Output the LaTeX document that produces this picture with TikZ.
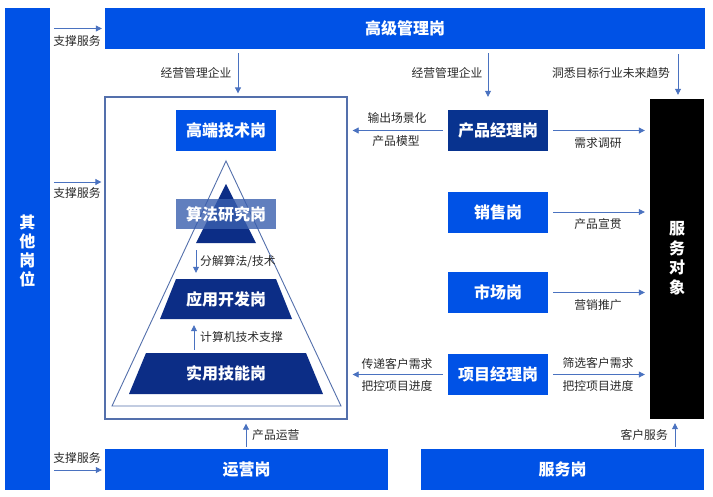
\documentclass[tikz,border=0pt]{standalone}
\usepackage{fontspec}
\setmainfont{Noto Sans CJK SC}
\usetikzlibrary{arrows.meta}
\definecolor{cblue}{HTML}{0052E6}
\definecolor{cnavy}{HTML}{0C2D86}
\definecolor{cpm}{HTML}{08338F}
\definecolor{cslate}{HTML}{3A5FAE}
\definecolor{carrow}{HTML}{4A72C0}
\definecolor{cframe}{HTML}{5470AC}
\definecolor{ctext}{HTML}{2A2A2A}
\tikzset{
 box/.style={fill=cblue, text=white, font=\fontsize{16}{18}\selectfont\bfseries, inner sep=0pt, minimum width=100pt, minimum height=41pt},
 lbl/.style={text=ctext, font=\fontsize{11.8}{13}\selectfont, inner sep=0pt},
 arr/.style={draw=carrow, line width=0.8pt, -{Triangle[length=6pt,width=6pt]}},
}
\begin{document}
\begin{tikzpicture}[x=1pt,y=-1pt]
\useasboundingbox[fill=white] (0,0) rectangle (713,496);
% big bars
\node[box, minimum width=45pt, minimum height=482pt] (other) at (27.5,249) {};
\node[text=white, font=\fontsize{16}{19}\selectfont\bfseries, align=center, inner sep=0pt] at (27.5,251) {其\\他\\岗\\位};
\node[box, minimum width=600pt, minimum height=41pt] (top) at (405,28.5) {高级管理岗};
\node[box, minimum width=283pt, minimum height=41pt] (yy) at (246.5,469.5) {运营岗};
\node[box, minimum width=283pt, minimum height=41pt] (fw) at (562.5,469.5) {服务岗};
\node[fill=black, minimum width=54pt, minimum height=320pt, inner sep=0pt] (svc) at (677,259) {};
\node[text=white, font=\fontsize{16}{19.5}\selectfont\bfseries, align=center, inner sep=0pt] at (677,258) {服\\务\\对\\象};
% frame
\node[draw=cframe, line width=1.3pt, minimum width=242pt, minimum height=322pt, inner sep=0pt] (frame) at (226,258) {};
\node[box] (gd) at (226,130.5) {高端技术岗};
% pyramid
\draw[draw=cframe, line width=0.9pt] (226,161) -- (341,406) -- (112,406) -- cycle;
\fill[cnavy] (226,184) -- (256,243) -- (196,243) -- cycle;
\coordinate (tri) at (226,243);
\fill[cnavy] (176,279) -- (276,279) -- (292,319) -- (160,319) -- cycle;
\fill[cnavy] (146,353) -- (306,353) -- (323,394) -- (129,394) -- cycle;
\node[box, fill=cslate, fill opacity=0.8, text opacity=1, minimum height=30pt] (sf) at (226,214) {算法研究岗};
\node[box, fill=none, minimum width=116pt, minimum height=40pt] (kf) at (226,299) {应用开发岗};
\node[box, fill=none, minimum width=160pt, minimum height=41pt] (jn) at (226,373.5) {实用技能岗};
\coordinate (a1) at (196,0);
\coordinate (a2) at (194,0);
\draw[arr] ([yshift=-7pt]tri -| a1) -- ([yshift=6pt]kf.north -| a1);
\node[lbl, anchor=west] at (200,262) {分解算法/技术};
\draw[arr] ([yshift=3pt]jn.north -| a2) -- ([yshift=-6pt]kf.south -| a2);
\node[lbl, anchor=west] at (200,337) {计算机技术支撑};
% right column
\node[box, fill=cpm] (pm) at (498,130.5) {产品经理岗};
\node[box] (xs) at (498,212) {销售岗};
\node[box] (sc) at (498,292.5) {市场岗};
\node[box] (xm) at (498,374.5) {项目经理岗};
% left support arrows
\coordinate (m1) at (0,182);
\coordinate (m2) at (0,470);
\draw[arr] ([xshift=4pt]other.east |- top.west) -- ([xshift=-3pt]top.west);
\node[lbl] at (77,41) {支撑服务};
\draw[arr] ([xshift=4pt]other.east |- m1) -- ([xshift=-3pt]frame.west |- m1);
\node[lbl] at (77,193) {支撑服务};
\draw[arr] ([xshift=4pt]other.east |- m2) -- ([xshift=-3pt]yy.west |- m2);
\node[lbl] at (77,458) {支撑服务};
% top arrows
\coordinate (t1) at (238,0);
\coordinate (t2) at (488,0);
\coordinate (t3) at (678,0);
\draw[arr] ([yshift=-4pt]top.south -| t1) -- ([yshift=3pt]frame.north -| t1);
\node[lbl] at (196,73) {经营管理企业};
\draw[arr] ([yshift=-4pt]top.south -| t2) -- ([yshift=13pt]pm.north -| t2);
\node[lbl] at (447,73) {经营管理企业};
\draw[arr] ([yshift=-5pt]top.south -| t3) -- ([yshift=4pt]svc.north -| t3);
\node[lbl] at (611,73) {洞悉目标行业未来趋势};
% pm arrows
\draw[arr] ([xshift=-5pt]pm.west) -- ([xshift=5pt]frame.east |- pm.west);
\node[lbl] at (397,118) {输出场景化};
\node[lbl] at (396,141) {产品模型};
\draw[arr] ([xshift=5pt]pm.east) -- ([xshift=-5pt]svc.west |- pm.east);
\node[lbl] at (598,143) {需求调研};
\draw[arr] ([xshift=5pt]xs.east) -- ([xshift=-5pt]svc.west |- xs.east);
\node[lbl] at (598,224) {产品宣贯};
\draw[arr] ([xshift=5pt]sc.east) -- ([xshift=-5pt]svc.west |- sc.east);
\node[lbl] at (598,305) {营销推广};
\draw[arr] ([xshift=5pt]xm.east) -- ([xshift=-5pt]svc.west |- xm.east);
\node[lbl] at (598,363) {筛选客户需求};
\node[lbl] at (598,386) {把控项目进度};
\draw[arr] ([xshift=-5pt]xm.west) -- ([xshift=5pt]frame.east |- xm.west);
\node[lbl] at (397,364) {传递客户需求};
\node[lbl] at (397,386) {把控项目进度};
% bottom arrows
\coordinate (b1) at (246,0);
\coordinate (b2) at (675,0);
\draw[arr] ([yshift=2pt]yy.north -| b1) -- ([yshift=-4pt]frame.south -| b1);
\node[lbl, anchor=west] at (252,435) {产品运营};
\draw[arr] ([yshift=2pt]fw.north -| b2) -- ([yshift=-4pt]svc.south -| b2);
\node[lbl, anchor=east] at (668,435) {客户服务};
\end{tikzpicture}
\end{document}
